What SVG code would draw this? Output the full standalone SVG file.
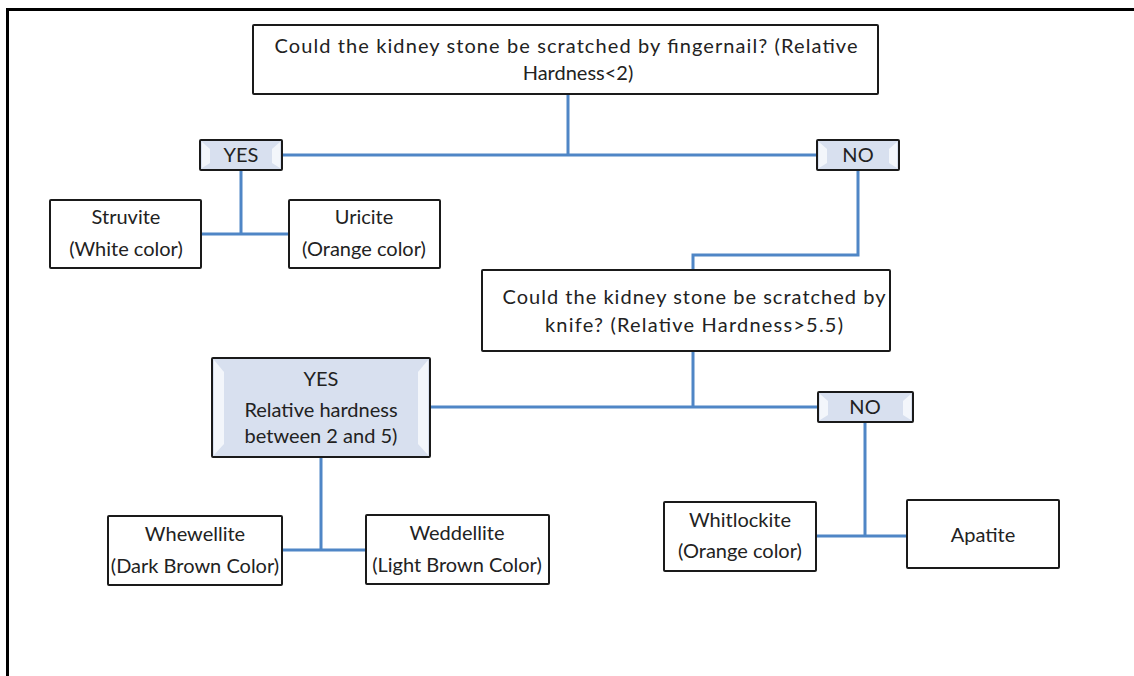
<svg xmlns="http://www.w3.org/2000/svg" width="1134" height="676" viewBox="0 0 1134 676">
<style>
.box{fill:#fff;stroke:#1a1a1a;stroke-width:2;}
.bev{fill:#d8e0ef;stroke:#1a1a1a;stroke-width:2;}
.hl{fill:#f3f6fb;}
.t{font-family:Lato,"Open Sans",sans-serif;font-size:20px;fill:#222;text-anchor:middle;}
.c{fill:none;stroke:#4f86c6;stroke-width:3;}
</style>
<rect x="0" y="0" width="1134" height="676" fill="#fff"/>
<path d="M7.5 676 V9.5 H1134" fill="none" stroke="#000" stroke-width="3"/>
<g id="connectors">
<path class="c" d="M568 94 V155 M282 155 H817"/>
<path class="c" d="M241 170 V234 M201 234 H289"/>
<path class="c" d="M858 170 V255 H693 V270"/>
<path class="c" d="M693 351 V407 M430 407 H818"/>
<path class="c" d="M321 457 V550 M282 550 H366"/>
<path class="c" d="M865 422 V536 M816 536 H907"/>
</g>
<g id="q1">
<rect class="box" x="253" y="25" width="625" height="69" rx="1"/>
<text class="t" x="566" y="53" textLength="583" lengthAdjust="spacing">Could the kidney stone be scratched by fingernail? (Relative</text>
<text class="t" x="578" y="80">Hardness&lt;2)</text>
</g>
<g id="yes1">
<rect class="bev" x="200" y="140" width="82" height="30" rx="1"/>
<polygon class="hl" points="202,142 210,149 210,163 202,168"/>
<polygon class="hl" points="280,142 272,149 272,163 280,168"/>
<text class="t" x="241" y="162">YES</text>
</g>
<g id="no1">
<rect class="bev" x="817" y="140" width="82" height="30" rx="1"/>
<polygon class="hl" points="819,142 827,149 827,163 819,168"/>
<polygon class="hl" points="897,142 889,149 889,163 897,168"/>
<text class="t" x="858" y="162">NO</text>
</g>
<g id="struvite">
<rect class="box" x="50" y="200" width="151" height="68" rx="1"/>
<text class="t" x="126" y="224">Struvite</text>
<text class="t" x="126" y="256">(White color)</text>
</g>
<g id="uricite">
<rect class="box" x="289" y="200" width="151" height="68" rx="1"/>
<text class="t" x="364" y="224">Uricite</text>
<text class="t" x="364" y="256">(Orange color)</text>
</g>
<g id="q2">
<rect class="box" x="482" y="270" width="408" height="81" rx="1"/>
<text class="t" x="694" y="304" textLength="383" lengthAdjust="spacing">Could the kidney stone be scratched by</text>
<text class="t" x="694" y="332" textLength="298" lengthAdjust="spacing">knife? (Relative Hardness&gt;5.5)</text>
</g>
<g id="yes2">
<rect class="bev" x="212" y="358" width="218" height="99" rx="1"/>
<polygon class="hl" points="214,360 224,372 224,444 214,455"/>
<polygon class="hl" points="428,360 418,372 418,444 428,455"/>
<text class="t" x="321" y="386">YES</text>
<text class="t" x="321" y="417">Relative hardness</text>
<text class="t" x="321" y="443">between 2 and 5)</text>
</g>
<g id="no2">
<rect class="bev" x="818" y="392" width="95" height="30" rx="1"/>
<polygon class="hl" points="820,394 828,401 828,415 820,420"/>
<polygon class="hl" points="911,394 903,401 903,415 911,420"/>
<text class="t" x="865" y="414">NO</text>
</g>
<g id="whewellite">
<rect class="box" x="108" y="516" width="174" height="69" rx="1"/>
<text class="t" x="195" y="541">Whewellite</text>
<text class="t" x="195" y="573">(Dark Brown Color)</text>
</g>
<g id="weddellite">
<rect class="box" x="366" y="515" width="183" height="69" rx="1"/>
<text class="t" x="457" y="540">Weddellite</text>
<text class="t" x="457" y="572">(Light Brown Color)</text>
</g>
<g id="whitlockite">
<rect class="box" x="664" y="502" width="152" height="69" rx="1"/>
<text class="t" x="740" y="527">Whitlockite</text>
<text class="t" x="740" y="558">(Orange color)</text>
</g>
<g id="apatite">
<rect class="box" x="907" y="500" width="152" height="68" rx="1"/>
<text class="t" x="983" y="542">Apatite</text>
</g>
</svg>
